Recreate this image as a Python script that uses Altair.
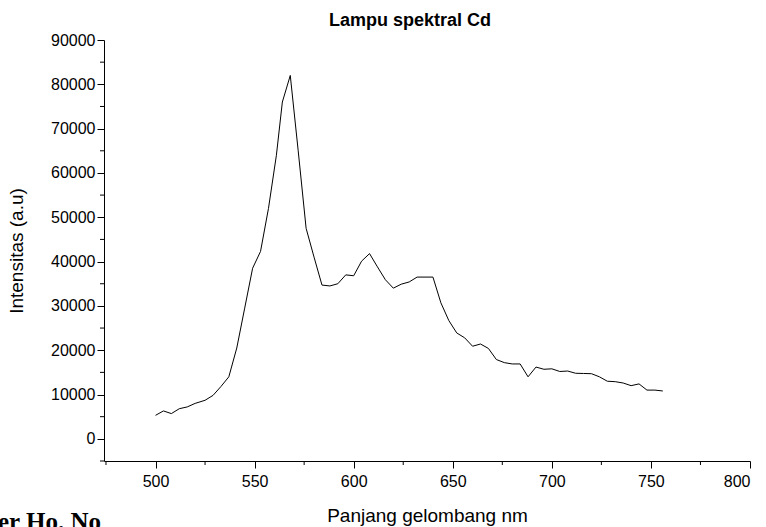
import altair as alt
import pandas as pd

wavelength = [500, 504, 508, 512, 516, 520, 525, 529, 533, 537, 541, 545, 549, 553,
              557, 561, 564, 568, 572, 576, 580, 584, 588, 592, 596, 600, 604, 608,
              612, 616, 620, 624, 628, 632, 636, 640, 644, 648, 652, 656, 660, 664,
              668, 672, 676, 680, 684, 688, 692, 696, 700, 704, 708, 712, 716, 720,
              724, 728, 732, 736, 740, 744, 748, 752, 756]
intensity = [5300, 6300, 5700, 6800, 7200, 8000, 8700, 9800, 11800, 14000, 20500, 29500,
             38500, 42300, 52000, 64000, 76000, 82000, 65000, 47500, 41000, 34700, 34500,
             35000, 37000, 36800, 40100, 41800, 38800, 35900, 34000, 34900, 35400, 36500,
             36500, 36500, 30700, 26700, 23900, 22800, 20900, 21400, 20400, 17900, 17200,
             16900, 16900, 14000, 16200, 15700, 15800, 15200, 15300, 14800, 14750, 14700,
             14000, 13000, 12900, 12600, 12000, 12400, 11000, 11000, 10800]

x_major = [500, 550, 600, 650, 700, 750, 800]
x_minor = [475, 525, 575, 625, 675, 725, 775]
y_major = [0, 10000, 20000, 30000, 40000, 50000, 60000, 70000, 80000, 90000]
y_minor = [-5000, 5000, 15000, 25000, 35000, 45000, 55000, 65000, 75000, 85000]

x_domain = [474, 800]
y_domain = [-5000, 90000]

W, H = 646, 421
FONT = "Liberation Sans"

df = pd.DataFrame({"nm": wavelength, "val": intensity})

xs = alt.Scale(domain=x_domain, nice=False, zero=False)
ys = alt.Scale(domain=y_domain, nice=False, zero=False)

line = alt.Chart(df).mark_line(color="black", strokeWidth=1).encode(
    x=alt.X("nm:Q", scale=xs, axis=alt.Axis(
        values=x_major, title="Panjang gelombang nm", format="d", grid=False,
        tickSize=7, labelPadding=5, titlePadding=17,
        labelFontSize=16, titleFontSize=19, titleFontWeight="normal")),
    y=alt.Y("val:Q", scale=ys, axis=alt.Axis(
        values=y_major, title="Intensitas (a.u)", format="d", grid=False,
        tickSize=7, labelPadding=2, titlePadding=24,
        labelFontSize=16, titleFontSize=19, titleFontWeight="normal")),
)

xminor_df = pd.DataFrame({"nm": x_minor})
xminor = alt.Chart(xminor_df).mark_rule(color="black", strokeWidth=1).encode(
    x=alt.X("nm:Q", scale=xs),
    y=alt.value(H),
    y2=alt.value(H + 4),
)

yminor_df = pd.DataFrame({"val": y_minor})
yminor = alt.Chart(yminor_df).mark_rule(color="black", strokeWidth=1).encode(
    y=alt.Y("val:Q", scale=ys),
    x=alt.value(-4),
    x2=alt.value(0),
)

note = alt.Chart(pd.DataFrame({"t": ["er Ho. No"]})).mark_text(
    font="Liberation Serif", fontSize=25, fontWeight="bold", align="left",
    baseline="alphabetic", color="black"
).encode(text="t:N", x=alt.value(-106), y=alt.value(H + 69))

chart = alt.layer(line, xminor, yminor, note).properties(
    width=W, height=H,
    background="white",
    title=alt.TitleParams("Lampu spektral Cd", font=FONT, fontSize=18,
                          fontWeight="bold", anchor="middle", offset=2, dx=-17),
    autosize=alt.AutoSizeParams(type="none"),
    padding={"left": 104, "top": 40, "right": 16, "bottom": 66},
).configure_axis(
    grid=False, domainColor="black", tickColor="black", labelColor="black",
    titleColor="black", labelFont=FONT, titleFont=FONT, domainWidth=1, tickWidth=1,
).configure_view(stroke="transparent", strokeWidth=0)

chart.save("out.html", embed_options={"renderer": "svg", "actions": False})
